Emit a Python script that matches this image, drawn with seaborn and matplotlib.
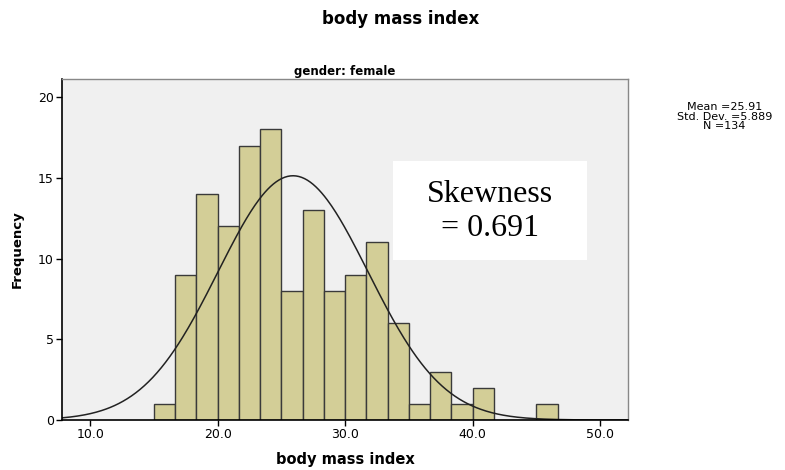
import numpy as np
import pandas as pd
import matplotlib
matplotlib.use("Agg")
import matplotlib.pyplot as plt
from matplotlib.patches import Rectangle
import seaborn as sns

### data
bin_start = 15.0
bin_width = 1.667
counts = [1, 9, 14, 12, 17, 18, 8, 13, 8, 9, 11, 6, 1, 3, 1, 2, 0, 0, 1]
mean_bmi = 25.91
sd_bmi = 5.889
n_obs = 134
skewness = 0.691

edges = bin_start + bin_width * np.arange(len(counts) + 1)
centers = (edges[:-1] + edges[1:]) / 2
hist_df = pd.DataFrame({"bmi": centers, "count": counts})

sns.set_style("white")
plt.rcParams["font.family"] = ["DejaVu Sans"]
plt.rcParams["text.color"] = "black"
plt.rcParams["axes.labelcolor"] = "black"
plt.rcParams["xtick.color"] = "black"
plt.rcParams["ytick.color"] = "black"

fig = plt.figure(figsize=(7.85, 4.7), dpi=100)
ax = fig.add_axes([0.079, 0.1064, 0.721, 0.7256])
ax.set_facecolor("#f0f0f0")

sns.histplot(data=hist_df, x="bmi", weights="count", bins=list(edges),
             color="#d3ce97", edgecolor="#3a3a3a", linewidth=1.0,
             alpha=1.0, ax=ax)

### normal curve scaled to the histogram
xs = np.linspace(7.78, 52.2, 400)
ys = n_obs * bin_width / (sd_bmi * np.sqrt(2 * np.pi)) * np.exp(-0.5 * ((xs - mean_bmi) / sd_bmi) ** 2)
sns.lineplot(x=xs, y=ys, color="#222222", linewidth=1.1, ax=ax)

ax.set_xlim(7.78, 52.2)
ax.set_ylim(0, 21.13)
ax.set_xticks([10, 20, 30, 40, 50])
ax.set_xticklabels(["10.0", "20.0", "30.0", "40.0", "50.0"], fontsize=9)
ax.set_yticks([0, 5, 10, 15, 20])
ax.set_yticklabels(["0", "5", "10", "15", "20"], fontsize=9)
ax.tick_params(direction="out", length=4, width=1, color="black", bottom=True, left=True, pad=2)

for side in ["left", "bottom"]:
    ax.spines[side].set_color("black")
    ax.spines[side].set_linewidth(1.2)
for side in ["top", "right"]:
    ax.spines[side].set_color("#888888")
    ax.spines[side].set_linewidth(1.0)

ax.set_xlabel("body mass index", fontsize=10.5, fontweight="bold", labelpad=8)
ax.set_ylabel("Frequency", fontsize=9.5, fontweight="bold", labelpad=10)
ax.set_title("gender: female", fontsize=8.5, fontweight="bold", pad=3)

fig.text(0.51, 0.96, "body mass index", ha="center", va="center",
         fontsize=12, fontweight="bold")
fig.text(0.923, 0.752, "Mean =25.91\nStd. Dev. =5.889\nN =134", ha="center", va="center",
         fontsize=8, linespacing=0.95)

### white box with the skewness note
ax.add_patch(Rectangle((0.585, 0.469), 0.343, 0.291, transform=ax.transAxes,
                       facecolor="white", edgecolor="none", zorder=5))
ax.text(0.756, 0.612, "Skewness\n= %.3f" % skewness, transform=ax.transAxes,
        ha="center", va="center", fontsize=23, family="Liberation Serif",
        linespacing=1.25, zorder=6)

fig.savefig("out.png", dpi=100)
